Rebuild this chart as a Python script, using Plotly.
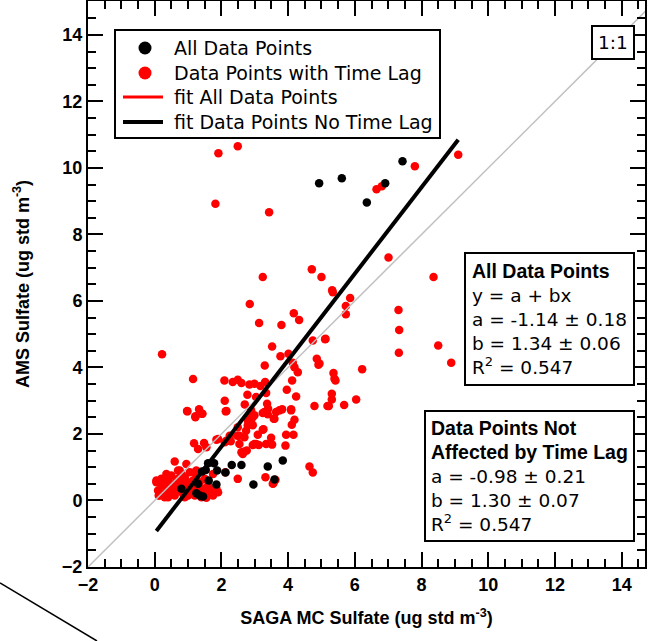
import plotly.graph_objects as go

# ---- data ----
red_x = [1.91, 2.49, 1.82, 3.43, 3.24, 4.71, 5.00, 5.32, 7.01, 8.36, 9.10, 7.80, 6.65, 6.81,
         5.34, 5.86, 5.73, 5.73, 5.11, 7.31, 7.33, 7.32, 8.50, 8.89, 4.94, 6.22, 5.36, 5.39,
         5.31, 5.31, 5.22, 5.68, 6.04, 5.42,
         2.99, 3.29, 3.39, 3.64, 3.74, 4.09, 2.89, 2.94, 3.57, 4.19, 4.11, 3.26, 3.09, 3.49,
         3.52, 3.94, 4.16, 2.99, 3.12, 3.92, 4.64, 4.74, 3.32, 3.56,
         2.85, 3.13, 3.80, 4.17, 4.33, 4.74, 5.12, 0.22, 3.52, 3.77, 4.01, 4.86, 4.91, 4.14,
         4.19, 4.29, 3.30, 4.12, 3.96, 4.24, 4.79, 5.18, 1.15, 2.09, 2.34, 2.49, 2.60, 2.84,
         2.99, 3.17, 3.31, 2.78, 3.04, 3.34, 2.10, 2.15, 0.97, 1.22, 1.33, 1.43, 2.70, 2.86,
         2.89, 3.24, 3.40, 3.37, 3.59, 3.82, 4.09, 3.24,
         0.98, 1.22, 1.42, 2.13, 2.49, 2.48, 2.69, 2.80, 2.94, 1.18, 1.48, 1.85, 2.10, 2.28,
         1.30, 1.55, 2.54, 2.69, 2.64, 2.94, 0.60, 0.95, 0.70, 0.80, 0.05, 0.20, 0.40, 2.49,
         1.20, 1.90, 2.25, 2.15, 2.54, 2.74, 2.79, 2.60, 2.76, 3.04, 3.34, 3.54, 3.62, 1.75,
         2.12, 1.80, 1.55, 1.25,
         0.05, 0.10, 0.15, 0.20, 0.25, 0.30, 0.35, 0.40, 0.45, 0.50, 0.50, 0.55, 0.60, 0.65,
         0.70, 0.75, 0.80, 0.85, 0.90, 0.95, 1.00, 1.00, 1.05, 1.10, 1.15, 1.20, 1.20, 1.25,
         1.30, 1.35, 1.40, 1.45, 1.50, 1.55, 1.60, 1.70, 1.75, 1.85, 1.90, 0.30, 0.60, 0.90,
         1.05, 0.45, 0.70, 0.85, 1.25, 0.20, 0.35, 0.12, 0.55, 1.65]
red_y = [10.44, 10.65, 8.92, 8.67, 6.72, 6.95, 6.72, 6.32, 7.31, 6.72, 10.40, 10.05, 9.36, 9.45,
         6.26, 6.09, 5.85, 5.60, 4.85, 5.73, 5.13, 4.44, 4.66, 4.14, 4.12, 3.95, 3.83, 3.66,
         3.21, 3.04, 2.84, 2.87, 3.04, 3.61,
         2.56, 2.66, 2.59, 2.66, 2.71, 2.71, 2.36, 2.26, 2.46, 2.43, 2.28, 2.14, 1.98, 1.89,
         1.68, 1.98, 1.98, 1.70, 1.67, 1.65, 1.02, 0.84, 0.70, 0.52,
         5.91, 5.34, 5.28, 5.63, 5.43, 4.81, 4.86, 4.40, 4.63, 4.34, 4.41, 4.26, 4.08, 4.14,
         4.01, 3.86, 4.06, 3.61, 3.33, 3.13, 2.84, 2.84, 3.65, 3.61, 3.56, 3.63, 3.53, 3.49,
         3.51, 3.44, 3.56, 3.18, 3.11, 3.23, 3.00, 2.69, 2.69, 2.50, 2.74, 2.61, 2.89, 2.50,
         2.71, 2.63, 2.76, 2.91, 2.46, 2.74, 2.74, 2.13,
         2.68, 2.53, 2.61, 2.68, 2.20, 1.95, 1.90, 2.40, 2.50, 1.72, 1.73, 1.83, 1.75, 1.78,
         1.55, 1.60, 1.70, 1.47, 1.40, 1.67, 1.17, 1.10, 0.90, 0.80, 0.60, 0.55, 0.65, 0.65,
         0.85, 1.85, 1.95, 1.80, 1.95, 2.10, 2.26, 1.45, 1.50, 1.70, 1.70, 0.50, 0.62, 0.80,
         0.85, 0.25, 0.08, 0.90,
         0.55, 0.30, 0.15, 0.45, 0.20, 0.60, 0.35, 0.10, 0.50, 0.25, 0.75, 0.40, 0.15, 0.60,
         0.30, 0.90, 0.50, 0.20, 0.70, 0.35, 0.15, 0.55, 0.85, 0.30, 0.60, 0.15, 0.45, 0.75,
         0.30, 0.55, 0.10, 0.35, 0.65, 0.20, 0.45, 0.30, 0.15, 0.35, 0.25, 0.10, 0.45, 0.10,
         0.25, 0.20, 0.65, 0.40, 0.20, 0.65, 0.80, 0.15, 0.30, 0.35]

black_x = [4.93, 5.61, 6.91, 6.36, 7.43, 3.84, 3.39, 3.59, 2.96, 1.60, 1.78, 2.31, 2.60,
           1.53, 1.42, 1.87, 2.12, 1.62, 1.85, 1.30, 0.80, 1.25, 1.35, 1.45]
black_y = [9.54, 9.69, 9.54, 8.96, 10.20, 1.20, 1.02, 0.63, 0.48, 1.12, 1.12, 1.07, 1.07,
           0.92, 0.87, 0.90, 0.84, 0.60, 0.48, 0.50, 0.35, 0.22, 0.15, 0.12]

fit_all = {"a": -1.14, "b": 1.34}
fit_nolag = {"a": -0.98, "b": 1.30}
fit_range = [0.05, 9.1]
one_to_one = [-2, 15]

legend_names = ["All Data Points", "Data Points with Time Lag",
                "fit All Data Points", "fit Data Points No Time Lag"]
legend_kinds = ["dot", "dot", "line", "line"]
legend_colors = ["#000000", "#ff0000", "#ff0000", "#000000"]

BOLD = "<span style='font-family:Liberation Sans;font-weight:bold;font-size:19.5px'>{}</span>"
box1_lines = [BOLD.format("All Data Points"), "y = a + bx", "a = -1.14 ± 0.18",
              "b = 1.34 ± 0.06", "R<sup>2</sup> = 0.547"]
box2_lines = [BOLD.format("Data Points Not"), BOLD.format("Affected by Time Lag"),
              "a = -0.98 ± 0.21", "b = 1.30 ± 0.07", "R<sup>2</sup> = 0.547"]

TXT = "DejaVu Sans"
AX = "Liberation Sans"
TS = 18.5

# plot-area geometry in pixels (for placing the legend in paper coordinates)
L, R, T, B = 88, 645, 1, 567
def px(xp):
    return (xp - L) / (R - L)
def py(yp):
    return (B - yp) / (B - T)

fig = go.Figure()

fig.add_trace(go.Scatter(x=red_x, y=red_y, mode="markers", showlegend=False,
                         marker=dict(color="#ff0000", size=8.5)))
fig.add_trace(go.Scatter(x=black_x, y=black_y, mode="markers", showlegend=False,
                         marker=dict(color="#000000", size=8.5)))
fig.add_trace(go.Scatter(x=one_to_one, y=one_to_one, mode="lines", showlegend=False,
                         line=dict(color="#c0c0c0", width=1.5)))
fig.add_trace(go.Scatter(x=fit_range,
                         y=[fit_nolag["a"] + fit_nolag["b"] * v for v in fit_range],
                         mode="lines", showlegend=False,
                         line=dict(color="#000000", width=4)))

axis_common = dict(
    showgrid=False, zeroline=False, showline=True, linecolor="black", linewidth=2,
    mirror="allticks", ticks="inside", ticklen=15, tickwidth=2, tickcolor="black",
    dtick=2, tick0=0, automargin=False,
    minor=dict(ticks="inside", ticklen=8, tickwidth=1.5, tickcolor="black", dtick=0.5),
    tickfont=dict(family=AX, size=18, color="black", weight="bold"),
)

fig.update_xaxes(range=[-2, 14.7], **axis_common,
                 title=dict(text="SAGA MC Sulfate (ug std m<sup>-3</sup>)",
                            font=dict(family=AX, size=18, color="black", weight="bold"),
                            standoff=18))
fig.update_yaxes(range=[-2, 15.02], **axis_common,
                 title=dict(text="AMS Sulfate (ug std m<sup>-3</sup>)",
                            font=dict(family=AX, size=18, color="black", weight="bold"),
                            standoff=28))

# ---- hand-built legend box ----
shapes = [dict(type="rect", xref="paper", yref="paper",
               x0=px(115), x1=px(440), y0=py(138), y1=py(30),
               fillcolor="white", line=dict(color="black", width=2), layer="above")]
annotations = []
row_y = [48, 73, 97, 122]
for name, kind, col, ry in zip(legend_names, legend_kinds, legend_colors, row_y):
    if kind == "dot":
        shapes.append(dict(type="circle", xref="paper", yref="paper",
                           xsizemode="pixel", ysizemode="pixel",
                           xanchor=px(145), yanchor=py(ry),
                           x0=-6.5, x1=6.5, y0=-6.5, y1=6.5,
                           fillcolor=col, line=dict(width=0), layer="above"))
    else:
        shapes.append(dict(type="line", xref="paper", yref="paper",
                           x0=px(123), x1=px(163), y0=py(ry), y1=py(ry),
                           line=dict(color=col, width=3 if col != "#000000" else 4),
                           layer="above"))
    annotations.append(dict(xref="paper", yref="paper", x=px(172), y=py(ry),
                            xanchor="left", yanchor="middle", text=name, showarrow=False,
                            font=dict(family=TXT, size=19, color="black")))

annotations += [
    dict(xref="paper", yref="paper", x=0.982, y=0.958, xanchor="right", yanchor="top",
         text="1:1", showarrow=False, font=dict(family=TXT, size=TS, color="black"),
         bordercolor="black", borderwidth=2, borderpad=5, bgcolor="white"),
    dict(xref="paper", yref="paper", x=0.982, y=0.5565, xanchor="right", yanchor="top",
         text="<br>".join(box1_lines), align="left", showarrow=False,
         font=dict(family=TXT, size=TS, color="black"),
         bordercolor="black", borderwidth=2, borderpad=6, bgcolor="white"),
    dict(xref="paper", yref="paper", x=0.982, y=0.277, xanchor="right", yanchor="top",
         text="<br>".join(box2_lines), align="left", showarrow=False,
         font=dict(family=TXT, size=TS, color="black"),
         bordercolor="black", borderwidth=2, borderpad=5, bgcolor="white"),
]

shapes.append(dict(type="line", xref="paper", yref="paper",
                   x0=px(0), y0=py(583), x1=px(97), y1=py(641),
                   line=dict(color="black", width=1.5)))

fig.update_layout(
    width=654, height=641,
    margin=dict(l=L, r=654 - R, t=T, b=641 - B),
    plot_bgcolor="white", paper_bgcolor="white",
    showlegend=False,
    annotations=annotations,
    shapes=shapes,
)

fig.write_html("out.html", config={"displayModeBar": False},
               post_script="document.body.style.margin='0';document.body.style.overflow='hidden';")
